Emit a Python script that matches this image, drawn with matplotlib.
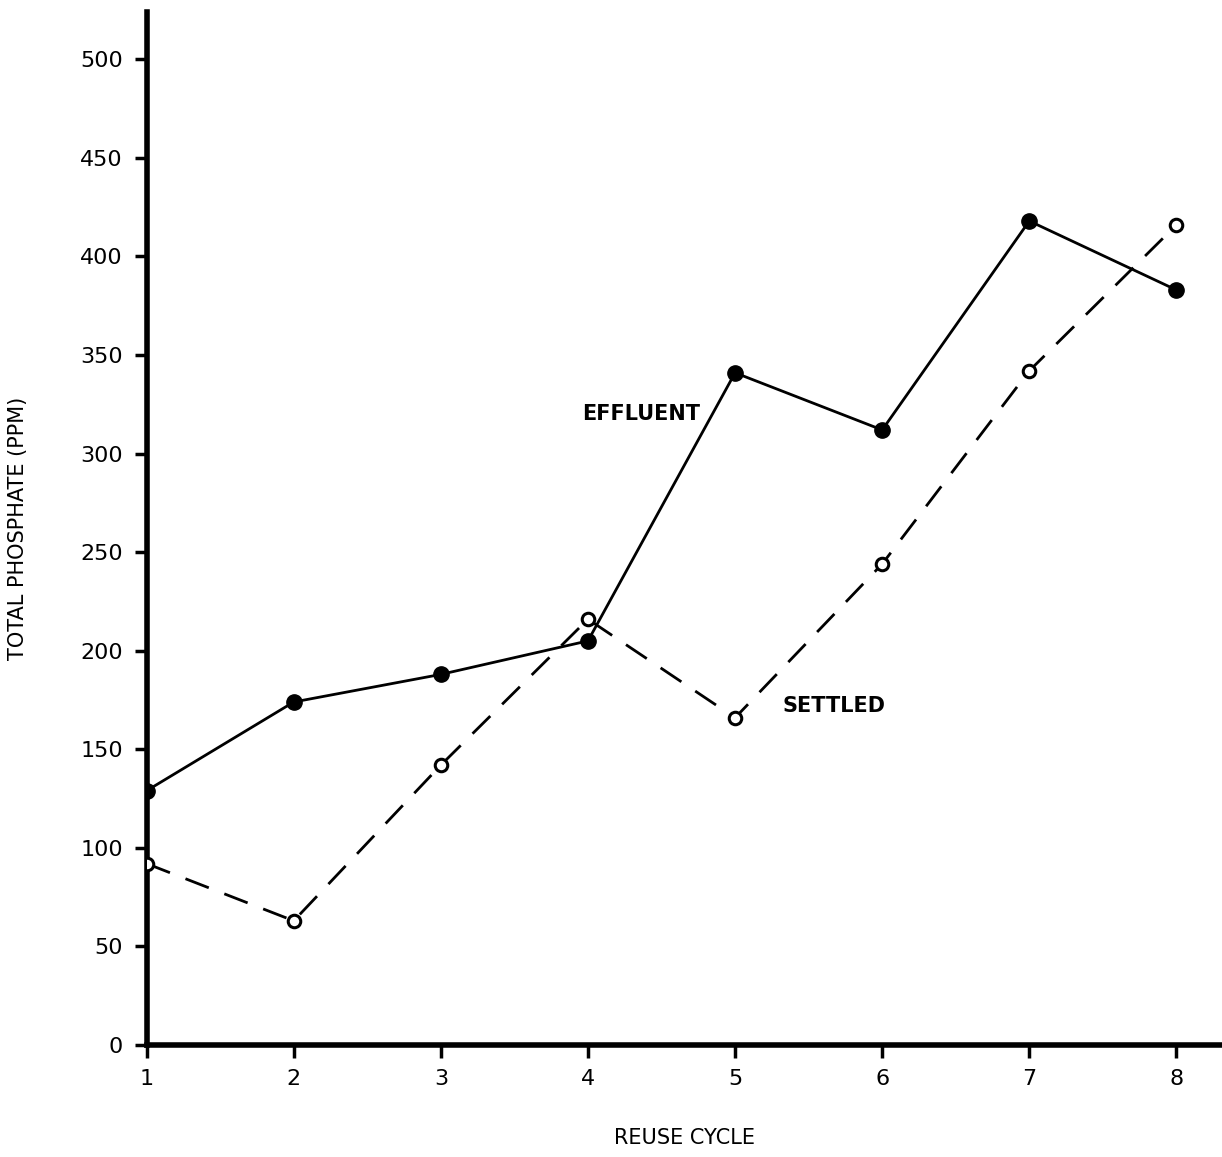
import matplotlib
matplotlib.use("Agg")
import matplotlib.pyplot as plt

cycles = [1, 2, 3, 4, 5, 6, 7, 8]
effluent = [129, 174, 188, 205, 341, 312, 418, 383]
settled = [92, 63, 142, 216, 166, 244, 342, 416]
yticks = [0, 50, 100, 150, 200, 250, 300, 350, 400, 450, 500]

fig = plt.figure(figsize=(12.22, 11.57), dpi=100)
ax = fig.add_axes([0.120, 0.0968, 0.880, 0.8928])

ax.plot(cycles, effluent, color="black", lw=2.0, marker="o", ms=11,
        markerfacecolor="black", markeredgecolor="black", zorder=3)
ax.plot(cycles, settled, color="black", lw=2.0, dashes=(9, 6), marker="o", ms=9,
        markerfacecolor="white", markeredgecolor="black", markeredgewidth=2.2, zorder=3)

ax.set_xlim(1, 8.31)
ax.set_ylim(0, 524)
ax.set_xticks(cycles)
ax.set_yticks(yticks)
ax.tick_params(axis="both", direction="out", length=9, width=2.5, labelsize=16, pad=8)

for s in ["top", "right"]:
    ax.spines[s].set_visible(False)
for s in ["left", "bottom"]:
    ax.spines[s].set_linewidth(4)

ax.set_ylabel("TOTAL PHOSPHATE (PPM)", fontsize=15, labelpad=38)
ax.set_xlabel("REUSE CYCLE", fontsize=15, labelpad=28)

ax.text(4.76, 320, "EFFLUENT", fontsize=15, ha="right", va="center", fontweight="bold")
ax.text(5.32, 172, "SETTLED", fontsize=15, ha="left", va="center", fontweight="bold")

fig.savefig("out.png", dpi=100)
